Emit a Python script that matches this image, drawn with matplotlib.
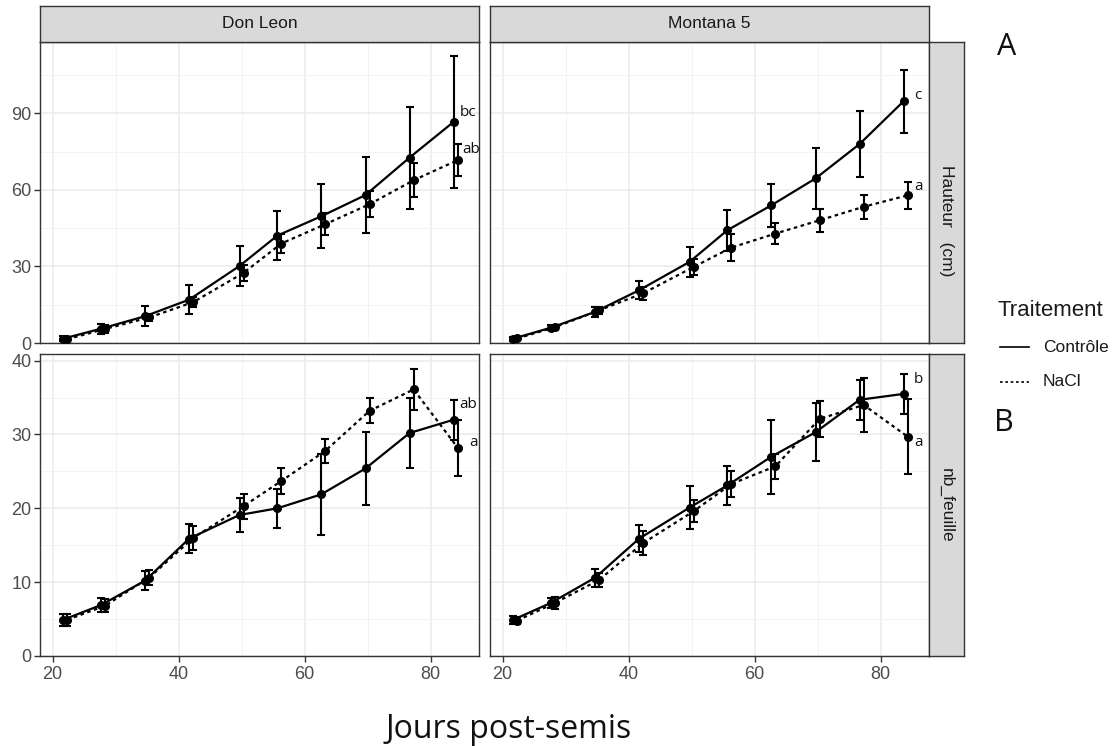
import matplotlib.pyplot as plt
from matplotlib.lines import Line2D

plt.rcParams['font.family'] = ['Liberation Sans', 'DejaVu Sans']

# sampling days (days after sowing)
days = [22, 28, 35, 42, 50, 56, 63, 70, 77, 84]

# Don Leon - height (cm)
dl_h_ctrl = [1.7, 5.6, 10.5, 17.0, 30.2, 42.1, 49.7, 58.0, 72.7, 86.7]
dl_h_ctrl_err = [1.0, 2.0, 4.0, 5.8, 7.7, 9.5, 12.6, 15.0, 20.0, 26.0]
dl_h_nacl = [1.5, 5.5, 10.0, 16.0, 27.5, 39.0, 46.6, 54.4, 63.8, 71.7]
dl_h_nacl_err = [0.8, 1.5, 1.5, 2.0, 3.0, 3.6, 4.3, 5.2, 6.7, 6.4]

# Montana 5 - height (cm)
m5_h_ctrl = [1.7, 6.0, 12.2, 20.7, 31.8, 44.2, 54.0, 64.5, 78.0, 94.8]
m5_h_ctrl_err = [0.8, 1.0, 2.0, 3.5, 6.0, 8.0, 8.4, 12.0, 13.0, 12.3]
m5_h_nacl = [1.8, 6.2, 12.8, 19.5, 29.8, 37.4, 42.9, 48.1, 53.4, 57.9]
m5_h_nacl_err = [0.6, 1.0, 1.5, 2.5, 3.3, 5.3, 4.0, 4.4, 4.8, 5.2]

# Don Leon - number of leaves
dl_f_ctrl = [4.9, 6.9, 10.2, 15.9, 19.1, 20.0, 21.9, 25.4, 30.2, 32.0]
dl_f_ctrl_err = [0.8, 0.9, 1.3, 2.0, 2.3, 2.6, 5.5, 4.9, 4.7, 2.7]
dl_f_nacl = [4.9, 6.8, 10.6, 16.0, 20.3, 23.7, 27.8, 33.2, 36.1, 28.2]
dl_f_nacl_err = [0.8, 0.9, 1.0, 1.6, 1.7, 1.8, 1.6, 1.7, 2.8, 3.8]

# Montana 5 - number of leaves
m5_f_ctrl = [4.9, 7.2, 10.6, 15.9, 20.1, 23.1, 27.0, 30.3, 34.7, 35.5]
m5_f_ctrl_err = [0.5, 0.7, 1.2, 1.8, 2.9, 2.6, 5.0, 3.9, 2.7, 2.7]
m5_f_nacl = [4.8, 7.2, 10.3, 15.3, 19.6, 23.3, 25.7, 32.1, 34.0, 29.7]
m5_f_nacl_err = [0.5, 0.8, 1.0, 1.6, 1.5, 1.7, 1.7, 2.5, 3.6, 5.1]

# significance letters: (text, x, y)
dl_h_letters = [('bc', 84.6, 90.5), ('ab', 85.1, 75.9)]
m5_h_letters = [('c', 85.3, 97.2), ('a', 85.3, 61.5)]
dl_f_letters = [('ab', 84.5, 34.1), ('a', 86.1, 28.9)]
m5_f_letters = [('b', 85.3, 37.4), ('a', 85.3, 28.9)]

varieties = ['Don Leon', 'Montana 5']
variables = ['Hauteur   (cm)', 'nb_feuille']

W, H = 1114, 746
fig = plt.figure(figsize=(W / 100, H / 100), dpi=100)


def add_box(x0, y0, x1, y1):
    # axes placed with pixel coords measured from the top-left corner
    return fig.add_axes([x0 / W, 1 - y1 / H, (x1 - x0) / W, (y1 - y0) / H])


cols = [(40, 479), (490, 929)]
rows = [(42, 343), (354, 656)]
ylims = [(0, 118), (0, 40.9)]
yticks = [[0, 30, 60, 90], [0, 10, 20, 30, 40]]
yminor = [[15, 45, 75, 105], [5, 15, 25, 35]]

panels = [
    [(dl_h_ctrl, dl_h_ctrl_err, dl_h_nacl, dl_h_nacl_err, dl_h_letters),
     (m5_h_ctrl, m5_h_ctrl_err, m5_h_nacl, m5_h_nacl_err, m5_h_letters)],
    [(dl_f_ctrl, dl_f_ctrl_err, dl_f_nacl, dl_f_nacl_err, dl_f_letters),
     (m5_f_ctrl, m5_f_ctrl_err, m5_f_nacl, m5_f_nacl_err, m5_f_letters)],
]

dodge = 0.32
dash = (0, (1.6, 1.6))

for r, (y0, y1) in enumerate(rows):
    for c, (x0, x1) in enumerate(cols):
        ctrl, ctrl_err, nacl, nacl_err, letters = panels[r][c]
        ax = add_box(x0, y0, x1, y1)
        xc = [d - dodge for d in days]
        xn = [d + dodge for d in days]

        ax.errorbar(xc, ctrl, yerr=ctrl_err, fmt='none', ecolor='black',
                    elinewidth=1.5, capsize=3, capthick=1.5, zorder=3)
        ax.errorbar(xn, nacl, yerr=nacl_err, fmt='none', ecolor='black',
                    elinewidth=1.5, capsize=3, capthick=1.5, zorder=3)
        ax.plot(xc, ctrl, color='black', lw=1.6, marker='o', ms=5.5, zorder=4)
        ax.plot(xn, nacl, color='black', lw=1.6, ls=dash, marker='o', ms=5.5,
                zorder=4)

        for txt, tx, ty in letters:
            ax.text(tx, ty, txt, ha='left', va='center', fontsize=11,
                    family=['Open Sans', 'DejaVu Sans'], color='#111111')

        ax.set_xlim(18.0, 87.7)
        ax.set_ylim(*ylims[r])
        ax.set_xticks([20, 40, 60, 80])
        ax.set_xticks([30, 50, 70], minor=True)
        ax.set_yticks(yticks[r])
        ax.set_yticks(yminor[r], minor=True)
        ax.grid(which='major', color='#EBEBEB', lw=1.1)
        ax.grid(which='minor', color='#F3F3F3', lw=0.7)
        ax.set_axisbelow(True)
        for s in ax.spines.values():
            s.set_color('#333333')
            s.set_linewidth(1.0)
        ax.tick_params(which='minor', length=0)
        ax.tick_params(which='major', color='#333333', length=4, width=1.0,
                       labelcolor='#4D4D4D', labelsize=13, pad=2)
        if c != 0:
            ax.tick_params(axis='y', length=0, labelleft=False)
        if r != 1:
            ax.tick_params(axis='x', length=0, labelbottom=False)
        else:
            ax.tick_params(axis='x', pad=3)

# facet strips across the top
for c, (x0, x1) in enumerate(cols):
    st = add_box(x0, 6, x1, 42)
    st.set_facecolor('#D9D9D9')
    st.set_xticks([])
    st.set_yticks([])
    for s in st.spines.values():
        s.set_color('#333333')
        s.set_linewidth(1.0)
    st.text(0.5, 0.5, varieties[c], ha='center', va='center', fontsize=12.5,
            color='#1A1A1A', transform=st.transAxes)

# facet strips on the right
for r, (y0, y1) in enumerate(rows):
    st = add_box(929, y0, 964, y1)
    st.set_facecolor('#D9D9D9')
    st.set_xticks([])
    st.set_yticks([])
    for s in st.spines.values():
        s.set_color('#333333')
        s.set_linewidth(1.0)
    ty = 0.5 if r == 1 else 1 - (221 - y0) / (y1 - y0)
    st.text(0.5, ty, variables[r], ha='center', va='center', rotation=-90,
            fontsize=12.5, color='#1A1A1A', transform=st.transAxes)

# legend
fig.text(997 / W, 1 - 310 / H, 'Traitement', ha='left', va='center',
         fontsize=16, color='#1A1A1A')
for ly, lab, ls in [(347, 'Contrôle', '-'), (382, 'NaCl', dash)]:
    fig.add_artist(Line2D([1000 / W, 1029 / W], [1 - ly / H, 1 - ly / H],
                          color='black', lw=1.2, ls=ls))
    fig.text(1043 / W, 1 - ly / H, lab, ha='left', va='center', fontsize=12.5,
             color='#1A1A1A')

# panel letters and axis title
fig.text(997 / W, 1 - 47 / H, 'A', ha='left', va='center', fontsize=22,
         family=['Open Sans', 'DejaVu Sans'], color='#111111')
fig.text(994 / W, 1 - 423 / H, 'B', ha='left', va='center', fontsize=22,
         family=['Open Sans', 'DejaVu Sans'], color='#111111')
fig.text(509 / W, 1 - 730 / H, 'Jours post-semis', ha='center', va='center',
         fontsize=23, family=['Open Sans', 'DejaVu Sans'], color='#111111')

fig.savefig('out.png', dpi=100, facecolor='white')
